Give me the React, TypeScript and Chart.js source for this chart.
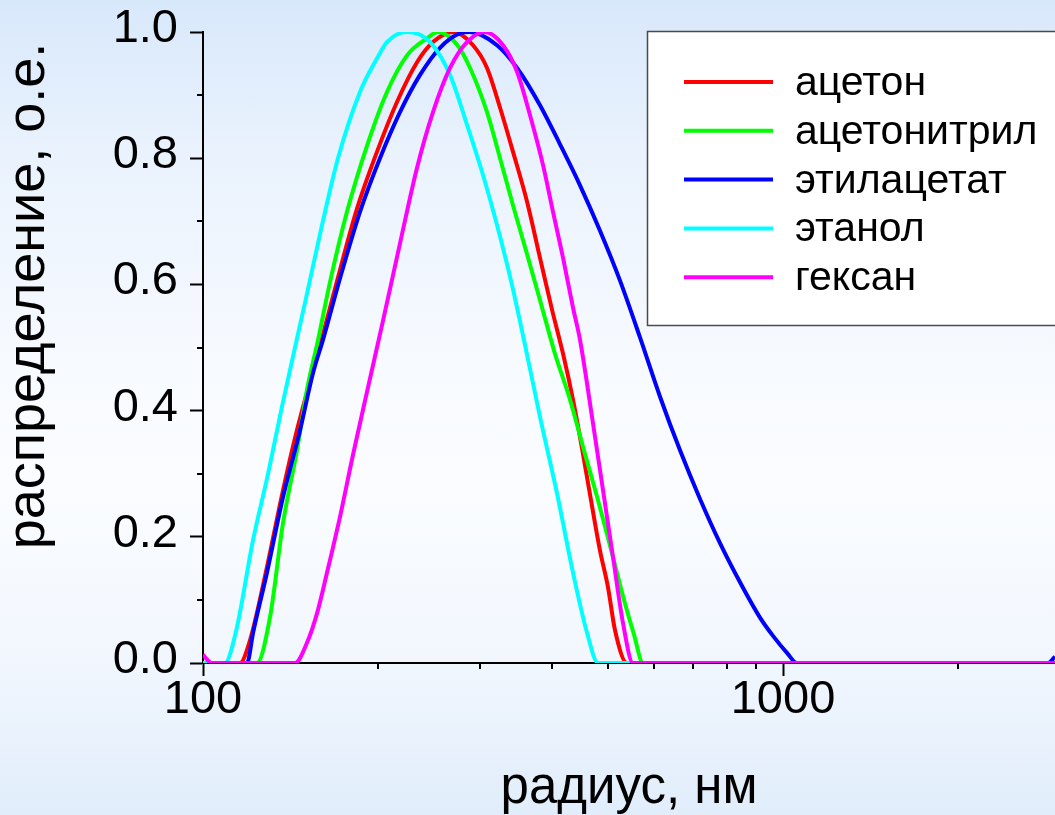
import React, { useEffect, useRef } from "react";
import { Chart, registerables } from "chart.js";

Chart.register(...registerables);

// ---- data (radius in nm, normalised distribution) ----
const seriesLabels = ["ацетон", "ацетонитрил", "этилацетат", "этанол", "гексан"];
const seriesColors = ["#ff0000", "#00ff00", "#0000ff", "#00ffff", "#ff00ff"];

const acetoneR = [100, 115.8, 120.5, 128.9, 137.4, 145.3, 160.4, 170.2, 184.3, 199.5, 216.0, 233.9, 249.2, 270, 292.1, 308.8, 325.2, 342.4, 362.0, 381.1, 399.7, 417.6, 434.5, 450.3, 466.6, 483.6, 499.2, 513.3, 538.3, 2944];
const acetoneV = [0, 0, 0.036, 0.152, 0.274, 0.37, 0.515, 0.605, 0.72, 0.81, 0.889, 0.952, 0.984, 1.0, 0.979, 0.943, 0.88, 0.81, 0.731, 0.642, 0.56, 0.49, 0.417, 0.34, 0.258, 0.178, 0.12, 0.052, 0, 0];

const acetonitrileR = [100, 123.9, 130.5, 137.4, 145.3, 151.1, 157.9, 165.6, 177.1, 191.8, 207.6, 224.8, 243.4, 254, 274.1, 288.7, 308.8, 325.2, 342.4, 362.0, 381.1, 404.5, 429.4, 453.8, 479.8, 505.2, 532.0, 553.5, 573.7, 2944];
const acetonitrileV = [0, 0, 0.073, 0.222, 0.338, 0.433, 0.512, 0.604, 0.715, 0.82, 0.905, 0.963, 0.99, 1.0, 0.98, 0.943, 0.873, 0.80, 0.725, 0.648, 0.575, 0.49, 0.417, 0.337, 0.258, 0.18, 0.1, 0.045, 0, 0];

const ethylAcetateR = [100, 119.1, 122.0, 128.9, 137.4, 147.0, 154.8, 161.0, 172.3, 186.5, 201.9, 218.6, 236.7, 256.2, 277.4, 288, 321.3, 347.9, 381.1, 412.6, 446.7, 483.6, 523.6, 566.8, 613.7, 664.4, 719.3, 778.7, 843.1, 912.7, 961.1, 1016, 1057, 2864, 2944];
const ethylAcetateV = [0, 0, 0.048, 0.143, 0.263, 0.369, 0.46, 0.512, 0.61, 0.715, 0.80, 0.873, 0.932, 0.975, 0.998, 1.0, 0.979, 0.943, 0.884, 0.822, 0.757, 0.685, 0.606, 0.516, 0.422, 0.337, 0.26, 0.19, 0.128, 0.072, 0.043, 0.016, 0, 0, 0.01];

const ethanolR = [100, 109.1, 114.0, 122.0, 129.5, 136.8, 145.3, 151.1, 160.4, 170.9, 186.5, 199.5, 207.6, 224.8, 246.3, 266.6, 285.2, 304.0, 321.3, 341.0, 359.1, 381.1, 407.7, 434.5, 459.3, 479.8, 2944];
const ethanolV = [0, 0, 0.05, 0.195, 0.30, 0.406, 0.515, 0.585, 0.694, 0.80, 0.905, 0.958, 0.984, 1.0, 0.984, 0.932, 0.853, 0.773, 0.694, 0.599, 0.504, 0.39, 0.269, 0.143, 0.048, 0, 0];

const hexaneR = [100, 103.6, 144.1, 151.1, 157.3, 163.6, 172.3, 181.4, 191.8, 203.5, 218.6, 233.9, 249.2, 266.6, 285.2, 306, 329.1, 347.9, 366.3, 385.7, 401.3, 417.6, 434.5, 446.7, 470.3, 489.4, 509.2, 529.9, 551.3, 2944];
const hexaneV = [0.013, 0, 0, 0.032, 0.079, 0.143, 0.232, 0.33, 0.43, 0.535, 0.665, 0.785, 0.873, 0.943, 0.984, 1.0, 0.979, 0.937, 0.868, 0.789, 0.715, 0.642, 0.563, 0.512, 0.38, 0.274, 0.168, 0.063, 0, 0];

const xTickValues = [100, 200, 300, 400, 500, 600, 700, 800, 900, 1000, 2000];
const xLabeledTicks = [100, 1000];
const xMin = 100;
const xMax = 2944;
const yMin = 0;
const yMax = 1;
const yStep = 0.1;

const xTitle = "радиус, нм";
const yTitle = "распределение, о.е.";

const FONT = "'Liberation Sans', Arial, sans-serif";

const seriesR = [acetoneR, acetonitrileR, ethylAcetateR, ethanolR, hexaneR];
const seriesV = [acetoneV, acetonitrileV, ethylAcetateV, ethanolV, hexaneV];

const isMajorY = (v: number) => Math.round(v * 10) % 2 === 0;

const extrasPlugin = {
  id: "extras",
  beforeDatasetsDraw(chart: any) {
    const { ctx, chartArea, scales } = chart;
    const xs = scales.x;
    const ys = scales.y;
    ctx.save();
    ctx.strokeStyle = "#000";
    ctx.lineWidth = 2;
    ctx.beginPath();
    xTickValues.forEach((v) => {
      if (xLabeledTicks.includes(v)) return;
      const px = Math.round(xs.getPixelForValue(v));
      ctx.moveTo(px, chartArea.bottom);
      ctx.lineTo(px, chartArea.bottom + 6);
    });
    for (let i = 0; i <= Math.round((yMax - yMin) / yStep); i++) {
      const v = yMin + i * yStep;
      if (isMajorY(v)) continue;
      const py = Math.round(ys.getPixelForValue(v));
      ctx.moveTo(chartArea.left - 6, py);
      ctx.lineTo(chartArea.left, py);
    }
    ctx.stroke();
    ctx.restore();
  },
  afterDraw(chart: any) {
    const { ctx } = chart;
    ctx.save();
    // y title
    ctx.translate(44, 296);
    ctx.rotate(-Math.PI / 2);
    ctx.font = `54px ${FONT}`;
    ctx.fillStyle = "#000";
    ctx.textAlign = "center";
    ctx.textBaseline = "alphabetic";
    ctx.fillText(yTitle, 0, 0);
    ctx.restore();

    // legend box
    ctx.save();
    ctx.fillStyle = "#ffffff";
    ctx.fillRect(647, 31, 420, 295);
    ctx.strokeStyle = "#4a4a4a";
    ctx.lineWidth = 1.5;
    ctx.strokeRect(647.5, 31.5, 420, 294);
    chart.data.datasets.forEach((ds: any, i: number) => {
      const y = 82 + i * 48.8;
      ctx.strokeStyle = ds.borderColor;
      ctx.lineWidth = 4;
      ctx.beginPath();
      ctx.moveTo(684, y);
      ctx.lineTo(773, y);
      ctx.stroke();
      ctx.fillStyle = "#000";
      ctx.font = `41px ${FONT}`;
      ctx.textAlign = "left";
      ctx.textBaseline = "alphabetic";
      ctx.fillText(ds.label, 795, y + 13);
    });
    ctx.restore();
  },
};

export default function App() {
  const canvasRef = useRef<HTMLCanvasElement | null>(null);

  useEffect(() => {
    if (!canvasRef.current) return;
    const datasets = seriesLabels.map((label, i) => ({
      label,
      data: seriesR[i].map((r, j) => ({ x: r, y: seriesV[i][j] })),
      borderColor: seriesColors[i],
      backgroundColor: seriesColors[i],
      borderWidth: 4,
      pointRadius: 0,
      fill: false,
      cubicInterpolationMode: "monotone" as const,
      order: seriesLabels.length - i,
    }));

    const chart = new Chart(canvasRef.current, {
      type: "line",
      data: { datasets },
      plugins: [extrasPlugin],
      options: {
        animation: false,
        responsive: false,
        devicePixelRatio: 1,
        layout: { padding: { top: 32, left: 0, right: 0, bottom: 0 } },
        plugins: {
          legend: { display: false },
          tooltip: { enabled: false },
        },
        scales: {
          x: {
            type: "logarithmic",
            min: xMin,
            max: xMax,
            afterBuildTicks: (scale: any) => {
              scale.ticks = xTickValues.map((v) => ({ value: v }));
            },
            afterFit: (scale: any) => {
              scale.height = 152;
            },
            grid: {
              display: true,
              drawOnChartArea: false,
              drawTicks: true,
              tickLength: 13,
              tickWidth: 2,
              tickColor: (c: any) =>
                c.tick && xLabeledTicks.includes(c.tick.value) ? "#000" : "rgba(0,0,0,0)",
            },
            border: { display: true, color: "#000", width: 2 },
            ticks: {
              autoSkip: false,
              maxRotation: 0,
              minRotation: 0,
              padding: 5,
              color: "#000",
              font: { family: FONT, size: 47, lineHeight: 0.8 },
              callback: (v: any) => (xLabeledTicks.includes(Number(v)) ? String(v) : ""),
            },
            title: {
              display: true,
              text: xTitle,
              color: "#000",
              font: { family: FONT, size: 51, lineHeight: 1 },
              padding: { top: 0, bottom: 1 },
            },
          },
          y: {
            type: "linear",
            min: yMin,
            max: yMax,
            afterFit: (scale: any) => {
              scale.width = 203;
            },
            grid: {
              display: true,
              drawOnChartArea: false,
              drawTicks: true,
              tickLength: 13,
              tickWidth: 2,
              tickColor: (c: any) => (c.tick && isMajorY(c.tick.value) ? "#000" : "rgba(0,0,0,0)"),
            },
            border: { display: true, color: "#000", width: 2 },
            ticks: {
              stepSize: yStep,
              autoSkip: false,
              padding: 12,
              labelOffset: -3,
              color: "#000",
              font: { family: FONT, size: 47, lineHeight: 0.8 },
              callback: (v: any) => (isMajorY(Number(v)) ? Number(v).toFixed(1) : ""),
            },
            title: { display: false },
          },
        },
      },
    });
    return () => chart.destroy();
  }, []);

  return (
    <div
      style={{
        position: "absolute",
        left: 0,
        top: 0,
        width: 1055,
        height: 815,
        overflow: "hidden",
        background:
          "linear-gradient(to bottom, #d8e8fb 0%, #e9f2fd 18%, #f7faff 45%, #fafcff 60%, #f2f7fe 80%, #e1edfb 100%)",
      }}
    >
      <canvas ref={canvasRef} width={1055} height={815} style={{ display: "block" }} />
    </div>
  );
}
